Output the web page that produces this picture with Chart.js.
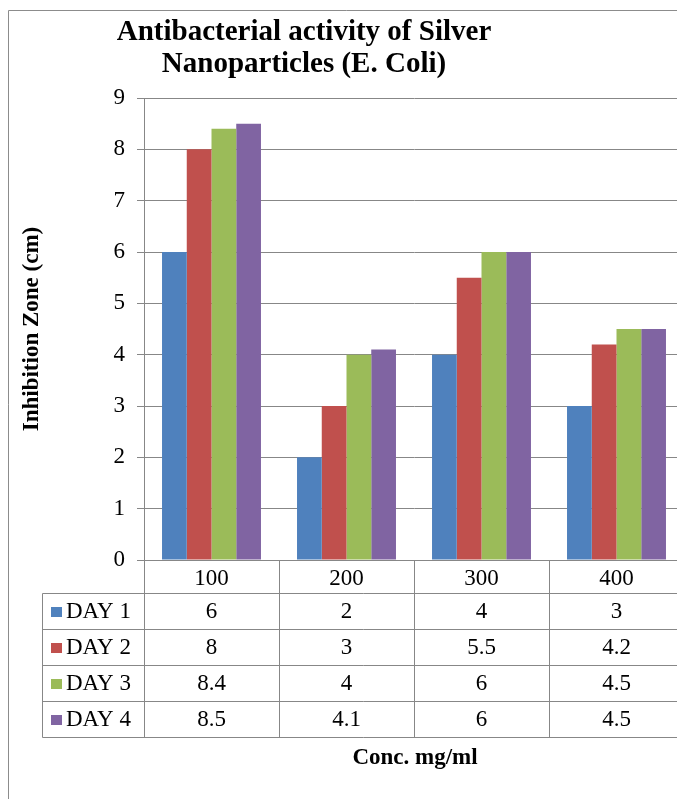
<!DOCTYPE html>
<html>
<head>
<meta charset="utf-8">
<script src="https://cdn.jsdelivr.net/npm/chart.js@4.4.1/dist/chart.umd.min.js"></script>
<style>
  html, body { margin: 0; padding: 0; background: #fff; overflow: hidden; }
  #wrap { position: relative; width: 677px; height: 799px; overflow: hidden; }
  #chart { position: absolute; left: 0; top: 0; }
</style>
</head>
<body>
<div id="wrap"><canvas id="chart" width="684" height="799"></canvas></div>
<script>
const categories = ['100', '200', '300', '400'];
const seriesNames = ['DAY 1', 'DAY 2', 'DAY 3', 'DAY 4'];
const day1 = [6, 2, 4, 3];
const day2 = [8, 3, 5.5, 4.2];
const day3 = [8.4, 4, 6, 4.5];
const day4 = [8.5, 4.1, 6, 4.5];
const yTickValues = [0, 1, 2, 3, 4, 5, 6, 7, 8, 9];
const titleLines = ['Antibacterial activity of Silver', 'Nanoparticles (E. Coli)'];
const yTitle = 'Inhibition Zone (cm)';
const xTitle = 'Conc. mg/ml';

const colors = ['#4F81BD', '#C0504D', '#9BBB59', '#8064A2'];
const gridColor = '#878787';
const serif = '"Liberation Serif", "Times New Roman", serif';

const seriesData = [day1, day2, day3, day4];

// draws the frame, titles and the data table under the plot
const decorPlugin = {
  id: 'decor',
  afterDraw(chart) {
    const ctx = chart.ctx;
    const area = chart.chartArea;
    const xs = chart.scales.x;

    ctx.save();
    // outer chart frame
    ctx.strokeStyle = '#8c8c8c';
    ctx.lineWidth = 1;
    ctx.beginPath();
    ctx.moveTo(8.5, 799);
    ctx.lineTo(8.5, 10.5);
    ctx.lineTo(chart.width, 10.5);
    ctx.stroke();

    // chart title
    ctx.fillStyle = '#000';
    ctx.font = 'bold 29px ' + serif;
    ctx.textAlign = 'center';
    ctx.textBaseline = 'alphabetic';
    ctx.fillText(titleLines[0], 304, 40);
    ctx.fillText(titleLines[1], 304, 72);

    // y axis title
    ctx.font = 'bold 23px ' + serif;
    ctx.save();
    ctx.translate(38, 329);
    ctx.rotate(-Math.PI / 2);
    ctx.fillText(yTitle, 0, 0);
    ctx.restore();

    // x axis title
    ctx.fillText(xTitle, 415, 764);

    // data table
    const half = (xs.getPixelForValue(1) - xs.getPixelForValue(0)) / 2;
    const headTop = area.bottom;
    const rowTop = 593;
    const rowH = 36;
    const tableBottom = rowTop + rowH * seriesNames.length;
    const tableLeft = 42;
    const crisp = v => Math.round(v) + 0.5;

    ctx.strokeStyle = gridColor;
    ctx.beginPath();
    // vertical lines
    ctx.moveTo(crisp(tableLeft), crisp(rowTop));
    ctx.lineTo(crisp(tableLeft), crisp(tableBottom));
    categories.forEach((c, i) => {
      const x = crisp(xs.getPixelForValue(i) - half);
      ctx.moveTo(x, headTop);
      ctx.lineTo(x, crisp(tableBottom));
    });
    // horizontal lines
    for (let r = 0; r <= seriesNames.length; r++) {
      const y = crisp(rowTop + r * rowH);
      ctx.moveTo(crisp(tableLeft), y);
      ctx.lineTo(chart.width, y);
    }
    ctx.stroke();

    ctx.font = '23px ' + serif;
    ctx.textAlign = 'center';
    categories.forEach((c, i) => {
      ctx.fillText(c, xs.getPixelForValue(i), rowTop - 8);
    });

    seriesNames.forEach((name, r) => {
      const base = rowTop + r * rowH + 25;
      ctx.fillStyle = colors[r];
      ctx.fillRect(51, base - 11, 11, 10);
      ctx.fillStyle = '#000';
      ctx.textAlign = 'left';
      ctx.fillText(name, 66, base);
      ctx.textAlign = 'center';
      seriesData[r].forEach((v, i) => {
        ctx.fillText(String(v), xs.getPixelForValue(i), base);
      });
    });
    ctx.restore();
  }
};

new Chart(document.getElementById('chart'), {
  type: 'bar',
  data: {
    labels: categories,
    datasets: seriesNames.map((name, i) => ({
      label: name,
      data: seriesData[i],
      backgroundColor: colors[i],
      borderWidth: 0,
      categoryPercentage: 0.733,
      barPercentage: 1
    }))
  },
  options: {
    responsive: false,
    animation: false,
    devicePixelRatio: 1,
    layout: { padding: { top: 98, left: 0, right: 0, bottom: 0 } },
    plugins: {
      legend: { display: false },
      tooltip: { enabled: false },
      title: { display: false }
    },
    scales: {
      x: {
        grid: { display: false },
        border: { display: false },
        ticks: { display: false },
        afterFit: s => { s.height = 239; }
      },
      y: {
        min: 0,
        max: 9,
        afterBuildTicks: s => { s.ticks = yTickValues.map(v => ({ value: v })); },
        afterFit: s => { s.width = 144; },
        grid: { color: gridColor, lineWidth: 1, tickLength: 7, drawTicks: true },
        border: { display: true, color: gridColor },
        ticks: {
          color: '#000',
          padding: 12,
          font: { family: serif, size: 23 }
        }
      }
    }
  },
  plugins: [decorPlugin]
});
</script>
</body>
</html>
